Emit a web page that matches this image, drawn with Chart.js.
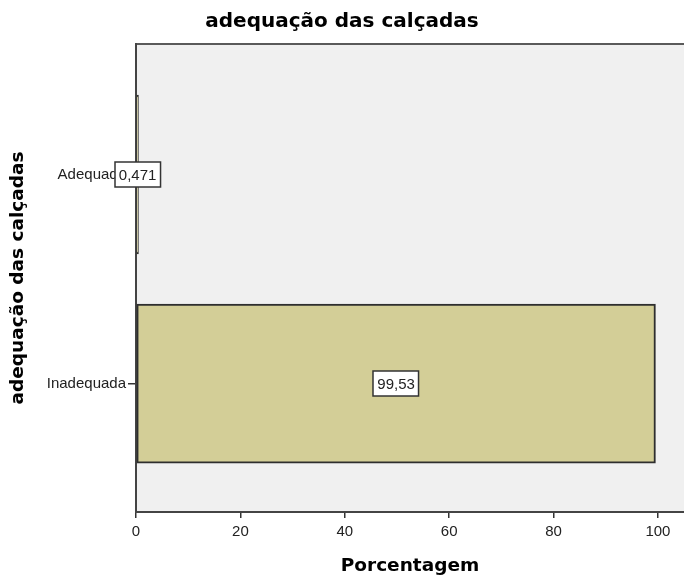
<!DOCTYPE html>
<html>
<head>
<meta charset="utf-8">
<script src="https://cdn.jsdelivr.net/npm/chart.js@4/dist/chart.umd.min.js"></script>
<style>
  html, body { margin: 0; padding: 0; background: #fff; }
  #wrap { width: 684px; height: 580px; }
</style>
</head>
<body>
<div id="wrap"><canvas id="c" width="684" height="580"></canvas></div>
<script>
const chartTitle = 'adequação das calçadas';
const categories = ['Adequada', 'Inadequada'];
const percentages = [0.471, 99.53];
const valueLabels = ['0,471', '99,53'];
const xTicks = [0, 20, 40, 60, 80, 100];
const xTitle = 'Porcentagem';
const yTitle = 'adequação das calçadas';

// category i is placed at position (n-1-i) on a numeric index axis
const n = categories.length;
const points = categories.map((c, i) => ({ x: percentages[i], y: n - 1 - i }));

const framePlugin = {
  id: 'frame',
  beforeDraw(chart) {
    const { ctx, chartArea: a } = chart;
    ctx.save();
    ctx.fillStyle = '#f0f0f0';
    ctx.fillRect(a.left, a.top, a.right - a.left + 10, a.bottom - a.top);
    ctx.strokeStyle = '#5a5a5a';
    ctx.lineWidth = 2;
    ctx.beginPath();
    ctx.moveTo(a.left, a.top);
    ctx.lineTo(a.right + 10, a.top);
    ctx.stroke();
    ctx.restore();
  }
};

const labelPlugin = {
  id: 'boxLabels',
  afterDatasetsDraw(chart) {
    const { ctx } = chart;
    const meta = chart.getDatasetMeta(0);
    ctx.save();
    ctx.font = '15px "Liberation Sans", Arial, sans-serif';
    ctx.textAlign = 'center';
    ctx.textBaseline = 'middle';
    meta.data.forEach((bar, i) => {
      const cx = (bar.x + bar.base) / 2;
      const cy = bar.y;
      const txt = valueLabels[i];
      const w = ctx.measureText(txt).width + 8;
      const h = 25;
      const x0 = Math.round(cx - w / 2);
      const y0 = Math.round(cy - h / 2);
      ctx.fillStyle = '#ffffff';
      ctx.fillRect(x0, y0, w, h);
      ctx.strokeStyle = '#333';
      ctx.lineWidth = 1.5;
      ctx.strokeRect(x0, y0, w, h);
      ctx.fillStyle = '#222';
      ctx.fillText(txt, cx, cy + 1);
    });
    ctx.restore();
  }
};

new Chart(document.getElementById('c'), {
  type: 'bar',
  data: {
    datasets: [{
      data: points,
      backgroundColor: '#d3ce97',
      borderColor: '#2e2e2e',
      borderWidth: 2,
      borderSkipped: false,
      barThickness: 159
    }]
  },
  options: {
    indexAxis: 'y',
    responsive: false,
    animation: false,
    layout: { padding: { left: 0, right: 0, top: 0, bottom: 0 } },
    plugins: {
      legend: { display: false },
      tooltip: { enabled: false },
      title: {
        display: true,
        text: chartTitle,
        color: '#000',
        font: { family: '"DejaVu Sans", sans-serif', size: 20, weight: 'bold', lineHeight: 1.2 },
        padding: { top: 10, bottom: 10 }
      }
    },
    scales: {
      x: {
        type: 'linear',
        min: 0,
        max: 105,
        afterFit(s) { s.height = 68; },
        afterBuildTicks(s) { s.ticks = xTicks.map(v => ({ value: v })); },
        ticks: {
          color: '#222',
          font: { family: '"Liberation Sans", Arial, sans-serif', size: 15 },
          padding: 5,
          maxRotation: 0,
          includeBounds: false
        },
        grid: { display: true, drawOnChartArea: false, drawTicks: true, tickLength: 6, color: '#333', lineWidth: 1.5 },
        border: { display: true, color: '#444', width: 2 },
        title: {
          display: true,
          text: xTitle,
          color: '#000',
          font: { family: '"DejaVu Sans", sans-serif', size: 18.5, weight: 'bold', lineHeight: 1.2 },
          padding: { top: 0, bottom: 3 }
        }
      },
      y: {
        type: 'linear',
        offset: false,
        min: -0.614,
        max: 1.624,
        afterFit(s) { s.width = 136; },
        afterBuildTicks(s) { s.ticks = categories.map((c, i) => ({ value: n - 1 - i })); },
        ticks: {
          color: '#222',
          font: { family: '"Liberation Sans", Arial, sans-serif', size: 15 },
          padding: 2,
          callback: (v) => categories[n - 1 - v]
        },
        grid: { display: true, offset: false, drawOnChartArea: false, drawTicks: true, tickLength: 8, color: '#333', lineWidth: 1.5 },
        border: { display: true, color: '#444', width: 2 },
        title: {
          display: true,
          text: yTitle,
          color: '#000',
          font: { family: '"DejaVu Sans", sans-serif', size: 18.5, weight: 'bold', lineHeight: 1.2 },
          padding: { top: 7, bottom: 0 }
        }
      }
    }
  },
  plugins: [framePlugin, labelPlugin]
});
</script>
</body>
</html>
